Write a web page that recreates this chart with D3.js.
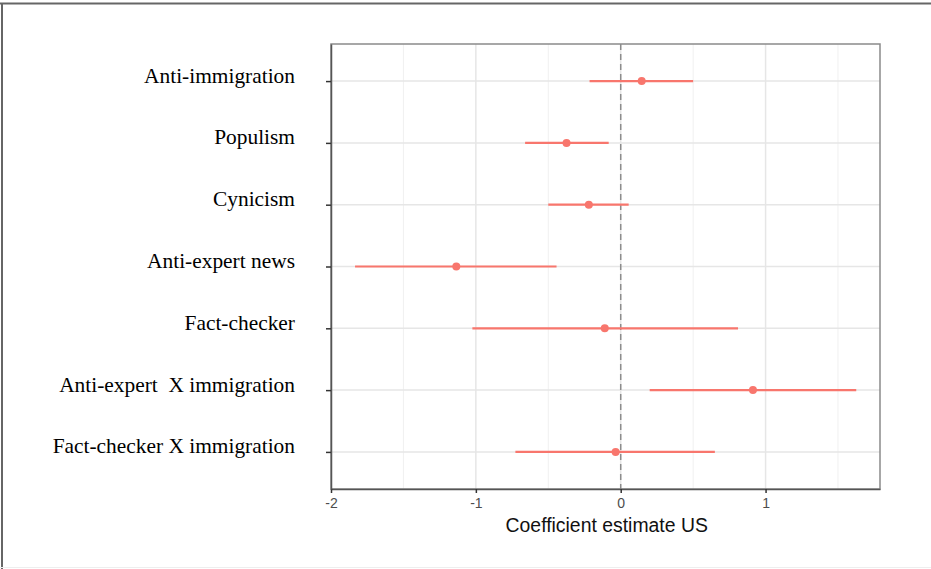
<!DOCTYPE html>
<html>
<head>
<meta charset="utf-8">
<script src="https://cdn.jsdelivr.net/npm/d3@7"></script>
<style>
	body { margin: 0; background: #fff; }
	svg { display: block; }
</style>
</head>
<body>
<div id="chart-area"><svg></svg></div>
<script>
const chartSize = { width: 931, height: 569 };
const margin = { left: 331, right: 51, top: 44, bottom: 80 };
const width = chartSize.width - margin.left - margin.right;
const height = chartSize.height - margin.top - margin.bottom;

const terms = [
	"Anti-immigration",
	"Populism",
	"Cynicism",
	"Anti-expert news",
	"Fact-checker",
	"Anti-expert  X immigration",
	"Fact-checker X immigration"
];
const estimates = [0.145, -0.374, -0.22, -1.135, -0.11, 0.913, -0.035];
const lower = [-0.215, -0.66, -0.50, -1.834, -1.024, 0.20, -0.727];
const upper = [0.50, -0.083, 0.055, -0.443, 0.81, 1.626, 0.65];
const xTicks = [-2, -1, 0, 1];
const xMinor = [-1.5, -0.5, 0.5, 1.5];

const red = "#F8766D";

const drawChart = () => {
	const svg = d3
		.select("#chart-area svg")
		.attr("width", chartSize.width)
		.attr("height", chartSize.height);

	// outer frame of the figure
	svg.append("line")
		.attr("x1", 0).attr("x2", chartSize.width)
		.attr("y1", 3.5).attr("y2", 3.5)
		.attr("stroke", "#666").attr("stroke-width", 2);
	svg.append("line")
		.attr("x1", 2).attr("x2", 2)
		.attr("y1", 3).attr("y2", chartSize.height)
		.attr("stroke", "#666").attr("stroke-width", 2);
	svg.append("line")
		.attr("x1", 0).attr("x2", chartSize.width)
		.attr("y1", 567.5).attr("y2", 567.5)
		.attr("stroke", "#eee").attr("stroke-width", 1);

	const g = svg
		.append("g")
		.attr("transform", `translate(${margin.left},${margin.top})`);

	const x = d3.scaleLinear().domain([-2, 1.79]).range([0, width]);
	const y = d3
		.scalePoint()
		.domain(terms)
		.range([0, height])
		.padding(0.6);

	// grid
	g.selectAll(".minor")
		.data(xMinor)
		.enter()
		.append("line")
		.attr("x1", d => x(d)).attr("x2", d => x(d))
		.attr("y1", 0).attr("y2", height)
		.attr("stroke", "#f0f0f0").attr("stroke-width", 1);
	g.selectAll(".major")
		.data(xTicks)
		.enter()
		.append("line")
		.attr("x1", d => x(d)).attr("x2", d => x(d))
		.attr("y1", 0).attr("y2", height)
		.attr("stroke", "#e6e6e6").attr("stroke-width", 1.5);
	g.selectAll(".hgrid")
		.data(terms)
		.enter()
		.append("line")
		.attr("x1", 0).attr("x2", width)
		.attr("y1", d => y(d)).attr("y2", d => y(d))
		.attr("stroke", "#e6e6e6").attr("stroke-width", 1.5);

	// zero reference
	g.append("line")
		.attr("x1", x(0)).attr("x2", x(0))
		.attr("y1", 0).attr("y2", height)
		.attr("stroke", "#8c8c8c")
		.attr("stroke-width", 1.5)
		.attr("stroke-dasharray", "6,4");

	// panel border
	g.append("rect")
		.attr("width", width).attr("height", height)
		.attr("fill", "none")
		.attr("stroke", "#8a8a8a").attr("stroke-width", 1.5);

	// error bars and points
	const rows = terms.map((t, i) => ({ t, est: estimates[i], lo: lower[i], hi: upper[i] }));
	g.selectAll(".ci")
		.data(rows)
		.enter()
		.append("line")
		.attr("x1", d => x(d.lo)).attr("x2", d => x(d.hi))
		.attr("y1", d => y(d.t)).attr("y2", d => y(d.t))
		.attr("stroke", red).attr("stroke-width", 2.2);
	g.selectAll(".pt")
		.data(rows)
		.enter()
		.append("circle")
		.attr("cx", d => x(d.est))
		.attr("cy", d => y(d.t))
		.attr("r", 4)
		.attr("fill", red);

	// axes
	const xAxis = d3
		.axisBottom(x)
		.tickValues(xTicks)
		.tickSize(4)
		.tickSizeOuter(0)
		.tickFormat(d => String(d));
	const xg = g.append("g").attr("transform", `translate(0,${height})`).call(xAxis);
	xg.select(".domain").attr("stroke", "#555").attr("stroke-width", 1.5);
	xg.selectAll(".tick line").attr("stroke", "#333").attr("stroke-width", 1.5);
	xg.selectAll(".tick text")
		.attr("fill", "#4d4d4d")
		.attr("dy", "0.85em")
		.style("font-family", "Liberation Sans, Arial, sans-serif")
		.style("font-size", "14px");

	const yAxis = d3.axisLeft(y).tickSize(5).tickSizeOuter(0).tickFormat("");
	const yg = g.append("g").call(yAxis);
	yg.select(".domain").attr("stroke", "#555").attr("stroke-width", 1.5);
	yg.selectAll(".tick line").attr("stroke", "#333").attr("stroke-width", 1.5);

	g.selectAll(".term-label")
		.data(terms)
		.enter()
		.append("text")
		.attr("x", 295 - margin.left)
		.attr("y", d => y(d) - 6)
		.attr("dy", "0.35em")
		.attr("text-anchor", "end")
		.style("font-family", "Liberation Serif, Times New Roman, serif")
		.style("font-size", "21.4px")
		.style("white-space", "pre")
		.attr("fill", "#000")
		.text(d => d);

	g.append("text")
		.attr("x", x(0) - 14)
		.attr("y", height + 43)
		.attr("text-anchor", "middle")
		.style("font-family", "Liberation Sans, Arial, sans-serif")
		.style("font-size", "19.4px")
		.attr("fill", "#111")
		.text("Coefficient estimate US");
};

window.onload = drawChart;
</script>
</body>
</html>
